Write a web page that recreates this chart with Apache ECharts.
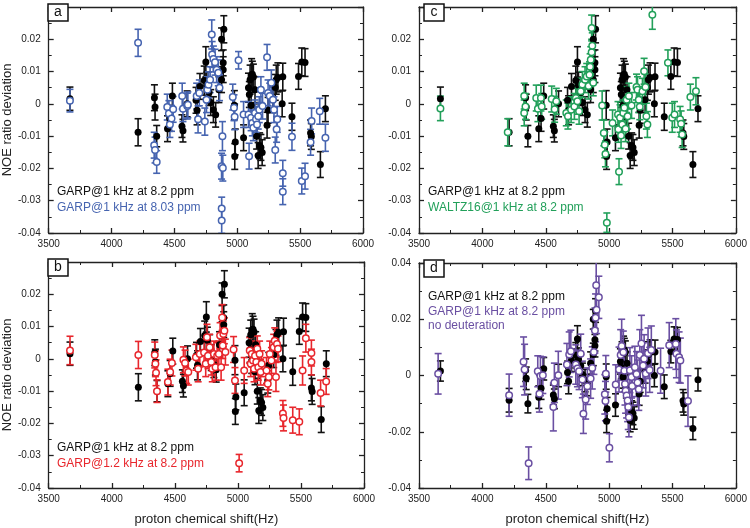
<!DOCTYPE html>
<html><head><meta charset="utf-8">
<script src="https://cdn.jsdelivr.net/npm/echarts@6/dist/echarts.min.js"></script>
<style>html,body{margin:0;padding:0;background:#fff}#c{width:750px;height:528px}</style>
</head><body><div id="c"></div>
<script>
// x range / ticks
const xMin = 3500, xMax = 6000, xStep = 500;
// [shift Hz, NOE deviation, error]
const garp1_82 = [[3669,0.0016,0.0036],[4211,-0.0088,0.0042],[4341,0.0019,0.0040],[4346,-0.0010,0.0040],[4359,-0.0100,0.0033],[4445,-0.0077,0.0040],[4463,-0.0045,0.0040],[4484,0.0024,0.0040],[4560,-0.0069,0.0035],[4568,-0.0083,0.0035],
[4601,0.0000,0.0040],[4672,0.0011,0.0040],[4680,-0.0020,0.0045],[4703,0.0054,0.0040],[4737,0.0072,0.0045],[4750,0.0130,0.0047],[4758,0.0058,0.0040],[4776,0.0035,0.0040],[4789,0.0004,0.0040],[4810,-0.0018,0.0040],
[4828,-0.0034,0.0038],[4854,0.0044,0.0040],[4875,0.0200,0.0035],[4875,0.0075,0.0040],[4888,0.0106,0.0040],[4888,0.0127,0.0040],[4893,0.0231,0.0042],[4977,-0.0004,0.0045],[4980,-0.0163,0.0040],[4984,-0.0118,0.0040],
[5050,-0.0105,0.0040],[5089,0.0050,0.0045],[5096,0.0029,0.0040],[5102,0.0075,0.0045],[5110,-0.0005,0.0040],[5114,0.0090,0.0050],[5120,0.0092,0.0040],[5128,0.0083,0.0040],[5136,-0.0040,0.0040],[5141,0.0044,0.0040],
[5154,-0.0100,0.0040],[5166,-0.0160,0.0040],[5178,-0.0130,0.0040],[5188,-0.0135,0.0040],[5198,-0.0151,0.0040],[5237,-0.0066,0.0040],[5245,-0.0020,0.0040],[5284,0.0013,0.0040],[5302,0.0051,0.0040],[5310,0.0075,0.0045],
[5323,0.0082,0.0045],[5357,0.0000,0.0040],[5362,0.0084,0.0042],[5435,-0.0040,0.0042],[5487,0.0085,0.0040],[5513,0.0130,0.0043],[5539,0.0128,0.0043],[5583,-0.0090,0.0040],[5589,-0.0101,0.0040],[5661,-0.0188,0.0040],[5701,-0.0015,0.0040]];

const garp1_803 = [[3669,0.0010,0.0035],[4211,0.0189,0.0042],[4339,-0.0128,0.0040],[4346,-0.0143,0.0040],[4359,-0.0180,0.0035],[4443,-0.0010,0.0040],[4456,-0.0030,0.0040],[4464,-0.0064,0.0040],[4477,-0.0045,0.0040],[4490,-0.0017,0.0040],
[4562,0.0024,0.0040],[4568,-0.0015,0.0040],[4602,-0.0007,0.0040],[4607,-0.0003,0.0040],[4677,0.0024,0.0040],[4688,-0.0048,0.0042],[4698,0.0034,0.0040],[4742,-0.0055,0.0042],[4755,0.0013,0.0040],[4763,0.0044,0.0040],
[4771,0.0059,0.0040],[4784,0.0075,0.0040],[4797,0.0215,0.0045],[4800,0.0153,0.0040],[4810,0.0139,0.0040],[4823,0.0129,0.0040],[4836,0.0106,0.0040],[4849,0.0096,0.0040],[4859,0.0050,0.0040],[4882,-0.0100,0.0045],
[4875,-0.0193,0.0040],[4885,-0.0199,0.0040],[4876,-0.0324,0.0035],[4876,-0.0361,0.0040],[4964,0.0021,0.0040],[4974,-0.0012,0.0040],[4979,-0.0040,0.0040],[5010,0.0135,0.0027],[5050,-0.0033,0.0040],[5094,-0.0162,0.0040],
[5089,-0.0033,0.0040],[5110,-0.0043,0.0040],[5120,-0.0059,0.0040],[5128,-0.0074,0.0040],[5141,-0.0028,0.0040],[5149,-0.0048,0.0040],[5157,-0.0064,0.0040],[5167,-0.0038,0.0040],[5175,-0.0018,0.0040],[5188,0.0044,0.0040],
[5201,-0.0007,0.0040],[5237,0.0144,0.0040],[5245,0.0034,0.0040],[5258,0.0024,0.0040],[5271,0.0065,0.0040],[5284,0.0013,0.0040],[5292,-0.0018,0.0040],[5302,-0.0143,0.0040],[5313,-0.0079,0.0040],[5318,-0.0048,0.0040],
[5362,-0.0215,0.0040],[5362,-0.0272,0.0040],[5435,-0.0102,0.0042],[5513,-0.0239,0.0040],[5539,-0.0224,0.0040],[5583,-0.0119,0.0040],[5591,-0.0053,0.0040],[5656,-0.0023,0.0040],[5701,-0.0105,0.0042]];

const garp12_82 = [[3669,0.0026,0.0044],[4211,0.0012,0.0042],[4341,0.0012,0.0040],[4346,-0.0015,0.0040],[4351,-0.0043,0.0040],[4359,-0.0100,0.0035],[4445,-0.0072,0.0040],[4463,-0.0041,0.0040],[4477,-0.0013,0.0040],[4568,-0.0003,0.0040],
[4581,-0.0013,0.0040],[4594,-0.0036,0.0040],[4607,-0.0041,0.0040],[4667,0.0005,0.0040],[4685,-0.0031,0.0040],[4698,0.0015,0.0040],[4732,0.0020,0.0040],[4745,-0.0015,0.0040],[4755,0.0067,0.0040],[4763,0.0010,0.0040],
[4776,0.0036,0.0040],[4789,-0.0010,0.0040],[4797,-0.0031,0.0040],[4810,0.0015,0.0040],[4823,-0.0026,0.0040],[4836,0.0010,0.0040],[4849,0.0015,0.0040],[4859,0.0072,0.0040],[4867,-0.0026,0.0040],[4875,0.0128,0.0040],
[4880,0.0041,0.0040],[4885,0.0077,0.0040],[4893,0.0087,0.0040],[4901,0.0021,0.0040],[4966,0.0029,0.0040],[4977,-0.0067,0.0040],[5010,-0.0323,0.0027],[5050,-0.0036,0.0040],[5094,0.0026,0.0040],[5102,-0.0015,0.0040],
[5110,0.0015,0.0040],[5120,-0.0005,0.0040],[5128,-0.0031,0.0040],[5136,0.0010,0.0040],[5146,-0.0010,0.0040],[5154,0.0031,0.0040],[5162,-0.0026,0.0040],[5172,0.0015,0.0040],[5180,-0.0041,0.0040],[5188,-0.0015,0.0040],
[5227,-0.0036,0.0040],[5237,-0.0077,0.0040],[5245,-0.0056,0.0040],[5253,0.0015,0.0040],[5266,-0.0005,0.0040],[5284,0.0036,0.0040],[5292,0.0056,0.0040],[5302,-0.0056,0.0045],[5310,0.0046,0.0040],[5318,0.0031,0.0040],
[5357,-0.0169,0.0040],[5362,-0.0183,0.0040],[5435,-0.0190,0.0040],[5487,-0.0195,0.0040],[5513,-0.0036,0.0045],[5539,0.0064,0.0043],[5583,0.0018,0.0040],[5583,-0.0010,0.0040],[5656,-0.0106,0.0040],[5700,-0.0070,0.0040]];

const waltz16_82 = [[3669,-0.0014,0.0038],[4200,-0.0088,0.0042],[4330,0.0024,0.0040],[4330,-0.0028,0.0040],[4340,-0.0008,0.0040],[4425,0.0018,0.0040],[4438,-0.0015,0.0040],[4462,0.0018,0.0040],[4468,-0.0008,0.0040],[4547,0.0015,0.0040],
[4570,-0.0017,0.0040],[4583,0.0008,0.0040],[4662,-0.0028,0.0040],[4675,-0.0038,0.0040],[4700,-0.0018,0.0040],[4726,-0.0008,0.0040],[4738,0.0018,0.0040],[4750,0.0008,0.0040],[4763,-0.0023,0.0040],[4776,0.0039,0.0040],
[4789,0.0060,0.0040],[4810,0.0075,0.0040],[4823,0.0085,0.0040],[4838,0.0055,0.0040],[4845,0.0090,0.0040],[4850,0.0115,0.0040],[4855,0.0137,0.0040],[4862,0.0160,0.0040],[4867,0.0180,0.0040],[4862,0.0235,0.0040],
[4875,0.0065,0.0040],[4945,-0.0005,0.0045],[4958,-0.0090,0.0040],[4966,-0.0127,0.0040],[4971,-0.0155,0.0040],[4982,-0.0368,0.0030],[5027,-0.0059,0.0040],[5070,-0.0033,0.0040],[5073,-0.0079,0.0040],[5078,-0.0210,0.0040],
[5086,-0.0043,0.0040],[5094,-0.0098,0.0040],[5104,-0.0064,0.0040],[5112,-0.0028,0.0040],[5120,-0.0012,0.0040],[5130,-0.0077,0.0040],[5138,0.0013,0.0040],[5146,-0.0038,0.0040],[5156,0.0024,0.0040],[5177,-0.0005,0.0040],
[5216,0.0052,0.0040],[5224,0.0044,0.0040],[5234,0.0013,0.0040],[5242,-0.0009,0.0040],[5263,0.0039,0.0040],[5276,0.0101,0.0040],[5287,0.0052,0.0040],[5294,-0.0038,0.0040],[5302,-0.0064,0.0040],[5341,0.0276,0.0045],
[5464,0.0127,0.0040],[5498,-0.0043,0.0045],[5516,-0.0033,0.0040],[5560,-0.0048,0.0040],[5568,-0.0062,0.0040],[5576,-0.0095,0.0040],[5641,0.0021,0.0040],[5685,0.0039,0.0042]];

const garp1_82_nodeut = [[3651,0.0006,0.0072],[4211,-0.0070,0.0075],[4325,0.0049,0.0088],[4333,0.0021,0.0090],[4365,-0.0312,0.0058],[4437,0.0015,0.0055],[4450,-0.0065,0.0065],[4458,-0.0002,0.0070],[4477,0.0001,0.0065],[4560,-0.0112,0.0085],
[4568,-0.0026,0.0070],[4599,0.0001,0.0085],[4667,0.0039,0.0075],[4685,0.0075,0.0080],[4698,0.0086,0.0075],[4737,0.0039,0.0070],[4750,0.0025,0.0065],[4763,0.0015,0.0065],[4776,0.0077,0.0070],[4789,-0.0014,0.0065],
[4797,-0.0136,0.0070],[4815,-0.0085,0.0070],[4828,-0.0038,0.0065],[4854,-0.0011,0.0070],[4867,0.0027,0.0075],[4880,0.0084,0.0080],[4888,0.0160,0.0080],[4893,0.0205,0.0085],[4901,0.0234,0.0085],[4898,0.0321,0.0090],
[4919,0.0278,0.0075],[4966,-0.0067,0.0070],[4971,-0.0091,0.0070],[4974,0.0006,0.0065],[5002,-0.0257,0.0050],[5052,-0.0032,0.0070],[5078,0.0021,0.0080],[5091,0.0073,0.0090],[5099,0.0105,0.0095],[5112,0.0083,0.0075],
[5120,0.0017,0.0075],[5125,-0.0030,0.0075],[5130,-0.0054,0.0080],[5138,-0.0071,0.0080],[5146,-0.0089,0.0075],[5151,-0.0112,0.0080],[5156,-0.0148,0.0070],[5164,0.0019,0.0080],[5177,-0.0005,0.0075],[5182,-0.0037,0.0070],
[5203,0.0029,0.0075],[5216,0.0005,0.0080],[5224,-0.0025,0.0080],[5234,-0.0049,0.0075],[5242,0.0073,0.0090],[5255,0.0114,0.0100],[5268,0.0036,0.0080],[5276,0.0060,0.0085],[5289,0.0007,0.0080],[5307,0.0079,0.0090],
[5320,0.0020,0.0080],[5333,0.0091,0.0085],[5406,0.0017,0.0080],[5474,0.0108,0.0080],[5526,0.0112,0.0090],[5531,0.0077,0.0085],[5552,0.0065,0.0090],[5562,0.0053,0.0080],[5622,-0.0091,0.0090]];

const panelLetters = ['a','b','c','d'];
const legendRef = 'GARP@1 kHz at 8.2 ppm';
const legendOther = [['GARP@1 kHz at 8.03 ppm'],['GARP@1.2 kHz at 8.2 ppm'],['WALTZ16@1 kHz at 8.2 ppm'],['GARP@1 kHz at 8.2 ppm','no deuteration']];
const colors = ['#4664b0','#e8262c','#22a05a','#6a4fa2'];
const otherData = [garp1_803, garp12_82, waltz16_82, garp1_82_nodeut];

const FONT = 'Liberation Sans, Arial, sans-serif';
const grids = [
  {left:43, top:7, width:320, height:226},
  {left:43, top:262, width:321, height:226},
  {left:419, top:7, width:318, height:226},
  {left:419, top:263, width:318, height:225}
];
const yRanges = [[-0.04,0.03,0.01],[-0.04,0.03,0.01],[-0.04,0.03,0.01],[-0.04,0.04,0.02]];

function fmtY(v){ const r = Math.round(v*100)/100; return r===0 ? '0' : r.toFixed(2); }
function fmtX(v){ return String(Math.round(v)); }

const xAxes = [], yAxes = [], series = [];
const axisLineStyle = {color:'#222', width:1.3};
grids.forEach((g,i)=>{
  const [ymin,ymax,yint] = yRanges[i];
  const bottomRow = (i===1||i===3), leftCol = (i<2);
  xAxes.push({gridIndex:i, type:'value', min:xMin, max:xMax, interval:xStep, position:'bottom',
    axisLine:{show:true, onZero:false, lineStyle:axisLineStyle},
    axisTick:{inside:true, length:5, lineStyle:axisLineStyle},
    minorTick:{show:true, splitNumber:2, length:3, lineStyle:{color:'#222', width:1}},
    splitLine:{show:false},
    axisLabel:{fontSize:10, color:'#222', fontFamily:FONT, margin:6, formatter: fmtX},
    name: bottomRow ? 'proton chemical shift(Hz)' : '', nameLocation:'middle', nameGap:25,
    nameTextStyle:{fontSize:13, color:'#222', fontFamily:FONT}});
  xAxes.push({gridIndex:i, type:'value', min:xMin, max:xMax, interval:xStep, position:'top',
    axisLine:{show:true, onZero:false, lineStyle:axisLineStyle},
    axisTick:{inside:true, length:5, lineStyle:axisLineStyle},
    minorTick:{show:true, splitNumber:2, length:3, lineStyle:{color:'#222', width:1}},
    splitLine:{show:false}, axisLabel:{show:false}});
  yAxes.push({gridIndex:i, type:'value', min:ymin, max:ymax, interval:yint, position:'left',
    axisLine:{show:true, onZero:false, lineStyle:axisLineStyle},
    axisTick:{inside:true, length:5, lineStyle:axisLineStyle},
    minorTick:{show:true, splitNumber:2, length:3, lineStyle:{color:'#222', width:1}},
    splitLine:{show:false},
    axisLabel:{fontSize:10, color:'#222', fontFamily:FONT, margin:8, showMaxLabel: i===3,
      formatter: fmtY},
    name: leftCol ? 'NOE ratio deviation' : '', nameLocation:'middle', nameGap:26,
    nameTextStyle:{fontSize:13, color:'#222', fontFamily:FONT}});
  yAxes.push({gridIndex:i, type:'value', min:ymin, max:ymax, interval:yint, position:'right',
    axisLine:{show:true, onZero:false, lineStyle:axisLineStyle},
    axisTick:{inside:true, length:5, lineStyle:axisLineStyle},
    minorTick:{show:true, splitNumber:2, length:3, lineStyle:{color:'#222', width:1}},
    splitLine:{show:false}, axisLabel:{show:false}});
});

function errSeries(i, data, color){
  return {type:'custom', xAxisIndex:2*i, yAxisIndex:2*i, clip:true, silent:true,
    data: data.map(d=>[d[0], d[1], d[2]]),
    encode:{x:0, y:1},
    renderItem:function(params, api){
      const x = api.value(0), y = api.value(1), e = api.value(2);
      const t = api.coord([x, y+e]), b = api.coord([x, y-e]);
      const hw = 3.5;
      const st = {stroke:color, lineWidth:1.6, fill:null};
      return {type:'group', children:[
        {type:'line', shape:{x1:t[0], y1:t[1], x2:b[0], y2:b[1]}, style:st},
        {type:'line', shape:{x1:t[0]-hw, y1:t[1], x2:t[0]+hw, y2:t[1]}, style:st},
        {type:'line', shape:{x1:b[0]-hw, y1:b[1], x2:b[0]+hw, y2:b[1]}, style:st}
      ]};
    }};
}
function ptSeries(i, data, color, open){
  return {type:'scatter', xAxisIndex:2*i, yAxisIndex:2*i, clip:true, silent:true,
    data: data.map(d=>[d[0], d[1]]),
    symbol:'circle', symbolSize: open ? 6.5 : 7,
    itemStyle: open ? {color:'#fff', borderColor:color, borderWidth:1.5, opacity:1}
                    : {color:'#000', opacity:1}};
}

grids.forEach((g,i)=>{
  series.push(errSeries(i, garp1_82, '#111'));
  series.push(ptSeries(i, garp1_82, '#000', false));
  series.push(errSeries(i, otherData[i], colors[i]));
  series.push(ptSeries(i, otherData[i], colors[i], true));
});

const graphic = [];
const legendPos = [[57,192],[57,448],[428,192],[428,297]];
grids.forEach((g,i)=>{
  const bx = g.left + 5, by = g.top - 3;
  graphic.push({type:'rect', x:bx, y:by, shape:{width:20, height:17}, style:{fill:'#fff', stroke:'#111', lineWidth:1.5}, z:100});
  graphic.push({type:'text', x:bx+10, y:by+8.5, style:{text:panelLetters[i], font:'14px '+FONT, fill:'#111', textAlign:'center', textVerticalAlign:'middle'}, z:101});
  const [lx, ly] = legendPos[i];
  graphic.push({type:'text', x:lx, y:ly, style:{text:legendRef, font:'12px '+FONT, fill:'#111', textVerticalAlign:'middle'}, z:100});
  legendOther[i].forEach((t,k)=>{
    graphic.push({type:'text', x:lx, y:ly+(i===3?14.5:16)*(k+1), style:{text:t, font:'12px '+FONT, fill:colors[i], textVerticalAlign:'middle'}, z:100});
  });
});

const chart = echarts.init(document.getElementById('c'), null, {renderer:'canvas'});
chart.setOption({animation:false, backgroundColor:'#fff', grid:grids, xAxis:xAxes, yAxis:yAxes, series:series, graphic:graphic});
</script>
</body></html>
